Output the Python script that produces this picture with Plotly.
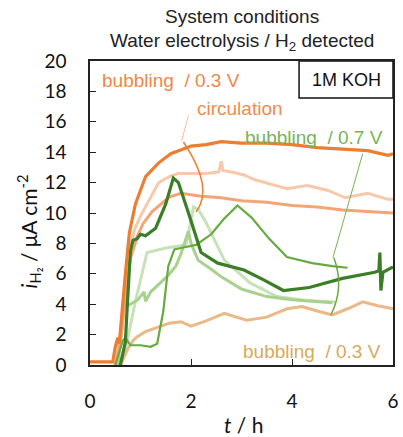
import plotly.graph_objects as go

# ---- data (t in h, i in uA cm^-2) ----
o_dark_t = [0, 0.2, 0.45, 0.5, 0.55, 0.58, 0.62, 0.7, 0.78, 0.9, 1.1, 1.36, 1.6, 2.0, 2.3, 2.6, 3.0, 3.5, 4.0, 4.5, 5.0, 5.5, 5.9, 6.0]
o_dark_v = [0.2, 0.2, 0.2, 1.2, 1.8, 1.4, 3.0, 6.0, 8.7, 10.6, 12.4, 13.3, 13.9, 14.4, 14.5, 14.7, 14.6, 14.6, 14.5, 14.3, 14.2, 14.1, 13.8, 13.9]

o_med_t = [0.5, 0.6, 0.7, 0.8, 0.93, 1.05, 1.23, 1.4, 1.57, 1.8, 2.2, 2.6, 3.0, 3.5, 4.0, 4.5, 5.0, 5.5, 6.0]
o_med_v = [0, 1.5, 4.5, 7.0, 8.4, 9.3, 10.1, 10.6, 11.05, 11.3, 11.1, 11.0, 10.8, 10.7, 10.5, 10.4, 10.2, 10.1, 10.0]

o_light_t = [0.5, 0.6, 0.7, 0.8, 0.88, 1.0, 1.13, 1.36, 1.57, 1.75, 2.0, 2.3, 2.55, 2.6, 2.63, 2.8, 3.05, 3.25, 3.9, 4.3, 4.7, 5.06, 5.5, 5.9, 6.0]
o_light_v = [0, 2.0, 5.0, 7.8, 8.9, 9.8, 10.6, 12.0, 12.4, 12.6, 12.6, 12.6, 12.7, 13.4, 12.8, 12.7, 12.5, 12.2, 11.6, 11.8, 11.5, 11.0, 11.3, 10.9, 10.9]

tan_t = [0.6, 0.74, 0.85, 0.93, 1.1, 1.3, 1.57, 1.8, 2.0, 2.3, 2.66, 3.1, 3.5, 3.9, 4.2, 4.5, 4.8, 5.1, 5.4, 5.7, 6.0]
tan_v = [0, 1.0, 1.6, 1.85, 2.2, 2.45, 2.75, 2.85, 2.55, 2.9, 3.4, 2.95, 3.15, 3.7, 3.85, 3.55, 3.3, 3.7, 4.15, 3.9, 3.7]

g_dark_t = [0.6, 0.7, 0.74, 0.8, 0.85, 0.93, 1.0, 1.1, 1.3, 1.5, 1.65, 1.75, 1.95, 2.2, 2.53, 3.05, 3.44, 3.83, 4.34, 5.0, 5.64, 5.72, 5.74, 5.76, 5.8, 6.0]
g_dark_v = [0, 1.5, 4.0, 7.5, 8.2, 8.3, 8.6, 8.5, 9.0, 10.6, 12.3, 12.0, 10.0, 7.4, 6.7, 6.25, 5.6, 4.9, 5.1, 5.7, 6.1, 6.2, 7.4, 4.9, 6.1, 6.45]

g_med_t = [0.5, 0.58, 0.65, 0.7, 0.75, 0.8, 1.0, 1.2, 1.33, 1.45, 1.55, 1.67, 1.8, 2.1, 2.4, 2.65, 2.92, 3.2, 3.55, 3.9, 4.4, 4.8, 5.1]
g_med_v = [0, 0.8, 1.6, 1.8, 1.5, 1.3, 1.3, 1.2, 1.4, 3.5, 6.5, 7.6, 7.7, 7.9, 8.6, 9.6, 10.5, 9.7, 8.3, 7.1, 6.7, 6.5, 6.4]

g_light_t = [0.55, 0.62, 0.68, 0.8, 0.95, 1.07, 1.1, 1.2, 1.35, 1.55, 1.7, 1.8, 1.9, 1.95, 2.0, 2.14, 2.4, 2.6, 3.0, 3.5, 4.0, 4.5, 4.8]
g_light_v = [0, 2.0, 3.8, 4.0, 4.3, 4.8, 4.2, 4.8, 5.3, 5.9, 6.5, 7.3, 8.3, 8.8, 8.0, 6.9, 6.3, 5.8, 5.0, 4.5, 4.3, 4.15, 4.1]

g_pale_t = [0.62, 0.7, 0.9, 1.13, 1.5, 1.9, 2.0, 2.05, 2.15, 2.28, 2.66, 3.17, 3.7, 4.3, 4.86]
g_pale_v = [0, 1.0, 4.2, 7.4, 7.7, 7.9, 9.5, 10.4, 10.2, 9.5, 6.9, 5.4, 4.5, 4.25, 4.15]

x_ticks = [0, 2, 4, 6]
y_ticks = list(range(0, 21, 2))

series = [
    (g_pale_t, g_pale_v, "rgb(200,226,184)", 3),
    (g_light_t, g_light_v, "rgb(169,209,142)", 3),
    (tan_t, tan_v, "rgb(234,185,135)", 3),
    (o_light_t, o_light_v, "rgb(248,200,170)", 3),
    (o_med_t, o_med_v, "rgb(244,165,118)", 3),
    (g_med_t, g_med_v, "rgb(102,170,64)", 2.2),
    (g_dark_t, g_dark_v, "rgb(60,125,40)", 3.2),
    (o_dark_t, o_dark_v, "rgb(237,125,49)", 3.2),
]

fig = go.Figure()
for t, v, c, w in series:
    fig.add_trace(go.Scatter(x=t, y=v, mode="lines", line=dict(color=c, width=w), hoverinfo="skip"))

arial = "Liberation Sans, Arial, sans-serif"
calib = "Lato, Carlito, sans-serif"

annos = [
    dict(x=0.5, y=1.145, xref="paper", yref="paper", text="System conditions", font=dict(family=arial, size=19, color="#222")),
    dict(x=0.5, y=1.0625, xref="paper", yref="paper", text="Water electrolysis / H<sub>2</sub> detected", font=dict(family=arial, size=19, color="#222")),
    dict(x=1.6, y=18.75, xref="x", yref="y", text="bubbling  / 0.3 V", font=dict(family=arial, size=19, color="rgb(240,135,70)")),
    dict(x=2.98, y=16.9, xref="x", yref="y", text="circulation", font=dict(family=arial, size=19, color="rgb(240,140,80)")),
    dict(x=4.44, y=15.0, xref="x", yref="y", text="bubbling  / 0.7 V", font=dict(family=arial, size=19, color="rgb(120,180,85)")),
    dict(x=4.40, y=0.86, xref="x", yref="y", text="bubbling  / 0.3 V", font=dict(family=arial, size=19, color="rgb(215,170,90)")),
    dict(x=5.07, y=18.78, xref="x", yref="y", text="1M KOH", font=dict(family=arial, size=18, color="#111")),
    dict(x=0.505, y=-0.197, xref="paper", yref="paper", text="<i>t</i> / h", font=dict(family=calib, size=21, color="#111")),
    dict(x=-0.204, y=0.44, xref="paper", yref="paper", textangle=-90,
         text="<i>i</i><sub>H₂</sub> / μA cm<sup>-2</sup>", font=dict(family=calib, size=21, color="#111")),
]
for a in annos:
    a.update(showarrow=False, xanchor="center", yanchor="middle")
fig.update_layout(annotations=annos)

shapes = [
    dict(type="rect", xref="x", yref="y", x0=4.14, x1=6.0, y0=17.57, y1=20.0, line=dict(color="#111", width=1.5)),
    dict(type="line", xref="x", yref="y", x0=1.95, y0=16.4, x1=1.81, y1=14.7, line=dict(color="rgb(246,190,160)", width=1)),
    dict(type="path", xref="x", yref="y", path="M 1.85,14.67 Q 2.465,11.63 2.10,10.07", line=dict(color="rgb(237,125,49)", width=1.5)),
    dict(type="line", xref="x", yref="y", x0=5.40, y0=13.9, x1=4.81, y1=7.05, line=dict(color="rgb(120,180,85)", width=1)),
    dict(type="path", xref="x", yref="y", path="M 4.83,7.05 Q 5.045,5.105 4.77,3.29", line=dict(color="rgb(102,170,64)", width=1.5)),
]
fig.update_layout(shapes=shapes)

axis_common = dict(showgrid=False, zeroline=False, showline=True, linecolor="#222", linewidth=1.5,
                   mirror=True, ticks="inside", ticklen=6, tickwidth=1.3, tickcolor="#222",
                   tickfont=dict(family=calib, size=19, color="#111"))
fig.update_xaxes(range=[0, 6], tickvals=x_ticks, ticktext=[str(v) for v in x_ticks], ticklabelstandoff=18, **axis_common)
fig.update_yaxes(range=[0, 20], tickvals=y_ticks, ticktext=[str(v) for v in y_ticks], ticklabelstandoff=18, **axis_common)

fig.update_layout(width=403, height=437, margin=dict(l=90, r=4, t=61, b=72),
                  paper_bgcolor="white", plot_bgcolor="white", showlegend=False)
fig.write_html("out.html")
